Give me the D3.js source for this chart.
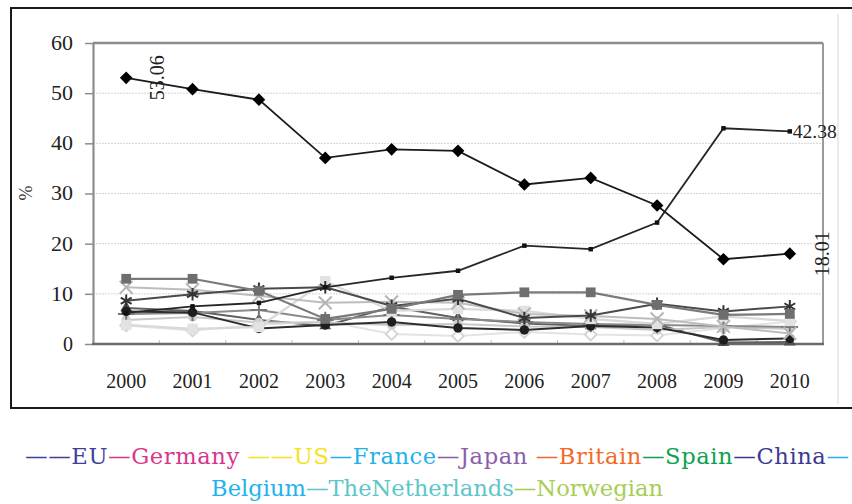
<!DOCTYPE html>
<html>
<head>
<meta charset="utf-8">
<script src="https://cdn.jsdelivr.net/npm/d3@7"></script>
<style>
  body { margin: 0; background: #fff; }
  svg { display: block; }
</style>
</head>
<body>
<div id="chart"></div>
<script>
// data
let years = ["2000","2001","2002","2003","2004","2005","2006","2007","2008","2009","2010"];
let yTicks = [0, 10, 20, 30, 40, 50, 60];

let eu          = [53.06, 50.8, 48.7, 37.1, 38.8, 38.5, 31.8, 33.1, 27.6, 16.9, 18.01];
let china       = [6.2, 7.5, 8.2, 11.3, 13.2, 14.6, 19.6, 18.9, 24.2, 43.0, 42.38];
let germany     = [13.0, 13.0, 10.6, 5.0, 7.0, 9.8, 10.3, 10.3, 7.8, 5.8, 6.0];
let us          = [8.6, 9.9, 11.0, 11.3, 7.6, 9.0, 5.2, 5.7, 8.0, 6.5, 7.5];
let france      = [11.3, 10.8, 9.6, 8.2, 8.4, 8.2, 6.0, 5.6, 5.0, 3.5, 2.1];
let japan       = [3.8, 3.0, 3.4, 12.5, 6.6, 7.0, 6.6, 5.0, 4.0, 5.5, 4.6];
let britain     = [6.5, 6.3, 3.1, 3.8, 4.4, 3.2, 2.8, 3.6, 3.3, 0.8, 1.1];
let spain       = [6.0, 6.2, 6.8, 4.8, 5.8, 5.0, 4.4, 4.0, 3.8, 3.6, 3.4];
let belgium     = [4.8, 5.4, 4.3, 4.3, 3.8, 4.0, 3.5, 3.4, 2.8, 3.4, 3.0];
let netherlands = [3.7, 2.7, 3.8, 4.6, 2.0, 1.6, 2.4, 1.9, 1.7, 3.2, 4.5];
let norwegian   = [7.2, 6.6, 4.8, 3.6, 7.4, 5.2, 4.1, 3.6, 3.9, 0.3, 0.4];

let seriesNames = ["EU","Germany","US","France","Japan","Britain","Spain","China","Belgium","TheNetherlands","Norwegian"];
let seriesValues = [eu, germany, us, france, japan, britain, spain, china, belgium, netherlands, norwegian];
let legendColors = ["#3f3f9c","#d6378f","#f4e31a","#1fb1ea","#8b5eaa","#f26a2b","#0ea24f","#3b3a93","#22b3ef","#5cc6c9","#a6ce55"];

// how each series is drawn in the grey plot (index matches seriesNames)
let styles = [
  {stroke: "#1a1a1a", width: 1.8, sym: d3.symbolSquare, rot: 45, size: 80, fill: "#000", mstroke: "none"},
  {stroke: "#7a7a7a", width: 2.2, sym: d3.symbolSquare, rot: 0, size: 95, fill: "#6e6e6e", mstroke: "none"},
  {stroke: "#4a4a4a", width: 2, sym: d3.symbolAsterisk, rot: 0, size: 110, fill: "none", mstroke: "#333"},
  {stroke: "#bdbdbd", width: 2, sym: d3.symbolX, rot: 0, size: 110, fill: "none", mstroke: "#b5b5b5"},
  {stroke: "#d9d9d9", width: 2.2, sym: d3.symbolSquare, rot: 0, size: 110, fill: "#e2e2e2", mstroke: "none"},
  {stroke: "#2e2e2e", width: 2, sym: d3.symbolCircle, rot: 0, size: 70, fill: "#1e1e1e", mstroke: "none"},
  {stroke: "#8a8a8a", width: 2, sym: d3.symbolPlus, rot: 0, size: 90, fill: "none", mstroke: "#777"},
  {stroke: "#262626", width: 1.8, sym: d3.symbolSquare, rot: 0, size: 20, fill: "#111", mstroke: "none"},
  {stroke: "#c8c8c8", width: 2, sym: d3.symbolCircle, rot: 0, size: 70, fill: "#cfcfcf", mstroke: "none"},
  {stroke: "#e3e3e3", width: 2, sym: d3.symbolSquare, rot: 45, size: 70, fill: "#fff", mstroke: "#d5d5d5"},
  {stroke: "#606060", width: 2, sym: d3.symbolTriangle, rot: 0, size: 60, fill: "#505050", mstroke: "none"}
];

let width = 852, height = 504;
let svg = d3.select("#chart").append("svg")
  .attr("width", width)
  .attr("height", height);

// outer frame
svg.append("rect")
  .attr("x", 11).attr("y", 8)
  .attr("width", 870).attr("height", 400)
  .attr("fill", "none")
  .attr("stroke", "#1a1a1a")
  .attr("stroke-width", 2);

svg.append("line")
  .attr("x1", 838).attr("x2", 838)
  .attr("y1", 14).attr("y2", 404)
  .attr("stroke", "#e4e4e4")
  .attr("stroke-width", 1.5);

let plot = {left: 93, right: 823, top: 43, bottom: 344};

let x = d3.scalePoint()
  .domain(years)
  .range([plot.left, plot.right])
  .padding(0.5);

let y = d3.scaleLinear()
  .domain([0, 60])
  .range([plot.bottom, plot.top]);

// grid lines
svg.append("g").selectAll("line")
  .data(yTicks.filter(d => d > 0 && d < 60))
  .join("line")
  .attr("x1", plot.left).attr("x2", plot.right)
  .attr("y1", d => y(d)).attr("y2", d => y(d))
  .attr("stroke", "#d4d4d4")
  .attr("stroke-width", 1)
  .attr("stroke-dasharray", "2,1");

// y axis
let yAxis = svg.append("g")
  .attr("transform", "translate(" + plot.left + ",0)")
  .call(d3.axisLeft(y).tickValues(yTicks).tickSize(8).tickPadding(12).tickSizeOuter(0));
yAxis.select(".domain").attr("stroke", "#8c8c8c").attr("stroke-width", 2.2);
yAxis.selectAll(".tick line").attr("stroke", "#8c8c8c").attr("stroke-width", 1.5);
yAxis.selectAll(".tick text")
  .attr("font-family", "'Liberation Serif', serif")
  .attr("font-size", 20)
  .attr("fill", "#222");
yAxis.selectAll(".tick text").filter(d => d >= 10)
  .attr("textLength", 22)
  .attr("lengthAdjust", "spacingAndGlyphs");

// top and right frame of the plot
svg.append("line")
  .attr("x1", plot.left).attr("x2", plot.right)
  .attr("y1", plot.top).attr("y2", plot.top)
  .attr("stroke", "#8c8c8c").attr("stroke-width", 2.5);
svg.append("line")
  .attr("x1", plot.right).attr("x2", plot.right)
  .attr("y1", plot.top).attr("y2", plot.bottom)
  .attr("stroke", "#9a9a9a").attr("stroke-width", 2);

// x axis
let step = x.step();
svg.append("g").selectAll("line")
  .data(d3.range(1, years.length))
  .join("line")
  .attr("x1", i => plot.left + i * step).attr("x2", i => plot.left + i * step)
  .attr("y1", plot.bottom).attr("y2", plot.bottom - 4)
  .attr("stroke", "#bdbdbd").attr("stroke-width", 1);

svg.append("line")
  .attr("x1", plot.left - 1).attr("x2", plot.right + 1)
  .attr("y1", plot.bottom).attr("y2", plot.bottom)
  .attr("stroke", "#6a6a6a").attr("stroke-width", 2.5);

svg.append("g").selectAll("text")
  .data(years)
  .join("text")
  .attr("x", d => x(d))
  .attr("y", 388)
  .attr("text-anchor", "middle")
  .attr("font-family", "'Liberation Serif', serif")
  .attr("font-size", 22)
  .attr("fill", "#222")
  .attr("textLength", 40)
  .attr("lengthAdjust", "spacingAndGlyphs")
  .text(d => d);

svg.append("text")
  .attr("transform", "translate(32,193) rotate(-90)")
  .attr("text-anchor", "middle")
  .attr("font-family", "'Liberation Serif', serif")
  .attr("font-size", 18)
  .attr("fill", "#333")
  .text("%");

// lines and markers: small series first, China and EU on top
let line = d3.line()
  .x((d, i) => x(years[i]))
  .y(d => y(d));

let order = [10, 9, 8, 6, 5, 4, 3, 2, 1, 7, 0];
order.forEach(function(k) {
  let st = styles[k];
  let g = svg.append("g").attr("class", "series");
  g.append("path")
    .datum(seriesValues[k])
    .attr("d", line)
    .attr("fill", "none")
    .attr("stroke", st.stroke)
    .attr("stroke-width", st.width);
  g.selectAll("path.mark")
    .data(seriesValues[k])
    .join("path")
    .attr("class", "mark")
    .attr("transform", (d, i) => "translate(" + x(years[i]) + "," + y(d) + ") rotate(" + st.rot + ")")
    .attr("d", d3.symbol().type(st.sym).size(st.size))
    .attr("fill", st.fill)
    .attr("stroke", st.mstroke)
    .attr("stroke-width", 2);
});

// value labels
let last = years.length - 1;
svg.append("text")
  .attr("transform", "translate(" + (x(years[0]) + 38) + "," + (y(eu[0]) + 0) + ") rotate(-90)")
  .attr("text-anchor", "middle")
  .attr("font-family", "'Liberation Serif', serif")
  .attr("font-size", 20)
  .attr("fill", "#222")
  .text(d3.format(".2f")(eu[0]));

svg.append("text")
  .attr("x", x(years[last]) + 3)
  .attr("y", y(china[last]) + 7)
  .attr("font-family", "'Liberation Serif', serif")
  .attr("font-size", 19)
  .attr("fill", "#222")
  .attr("textLength", 44)
  .attr("lengthAdjust", "spacingAndGlyphs")
  .text(d3.format(".2f")(china[last]));

svg.append("text")
  .attr("transform", "translate(" + (x(years[last]) + 39) + "," + (y(eu[last]) + 0) + ") rotate(-90)")
  .attr("text-anchor", "middle")
  .attr("font-family", "'Liberation Serif', serif")
  .attr("font-size", 20)
  .attr("fill", "#222")
  .text(d3.format(".2f")(eu[last]));

// coloured legend under the frame, two rows
let prefix = ["\u2014\u2014", "\u2014", " \u2014\u2014", "\u2014", "\u2014", " \u2014", "\u2014", "\u2014", "", "\u2014", "\u2014"];
let rows = [
  {y: 464, x: 25, items: [0,1,2,3,4,5,6,7], tail: "\u2014", tailColor: legendColors[8], len: 824},
  {y: 496, x: 437, items: [8,9,10], anchor: "middle"}
];
rows.forEach(function(r) {
  let t = svg.append("text")
    .attr("x", r.x)
    .attr("y", r.y)
    .attr("text-anchor", r.anchor || "start")
    .attr("font-family", "'DejaVu Serif', serif")
    .attr("font-size", 22.6)
    .style("white-space", "pre");
  if (r.len) t.attr("textLength", r.len).attr("lengthAdjust", "spacing");
  r.items.forEach(function(k) {
    t.append("tspan").attr("fill", legendColors[k]).text(prefix[k] + seriesNames[k]);
  });
  if (r.tail) t.append("tspan").attr("fill", r.tailColor).text(r.tail);
});
</script>
</body>
</html>
